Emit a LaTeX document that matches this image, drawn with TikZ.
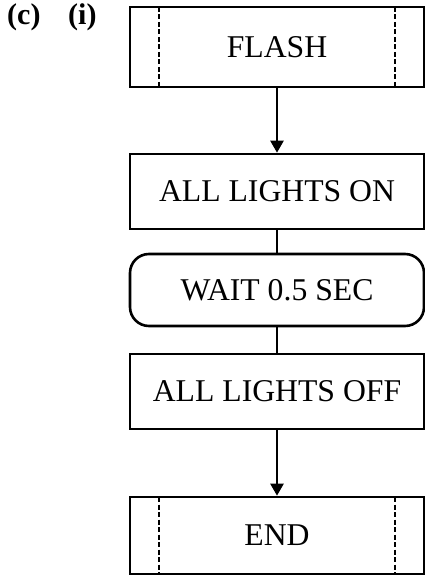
\documentclass[tikz,border=0pt]{standalone}
\usepackage{fontspec}
\setmainfont{Liberation Serif}
\usetikzlibrary{arrows.meta}

\begin{document}
\begin{tikzpicture}[x=1pt, y=-1pt, every node/.style={align=center,inner sep=0pt,font=\fontsize{31.7}{36}\selectfont}, box/.style={rectangle,draw,line width=2.6pt,minimum width=294pt,minimum height=75pt}, waitbox/.style={box,rounded corners=19pt,minimum height=72pt}, termbox/.style={box,path picture={\draw[line width=1.6pt,dash pattern=on 5pt off 2.5pt] ([xshift=29pt]path picture bounding box.north west) -- ([xshift=29pt]path picture bounding box.south west); \draw[line width=1.6pt,dash pattern=on 5pt off 2.5pt] ([xshift=-29pt]path picture bounding box.north east) -- ([xshift=-29pt]path picture bounding box.south east);}}, tag/.style={anchor=base west,font=\fontsize{30}{34}\selectfont\bfseries}, flow/.style={-{Triangle[length=12pt,width=13pt]},line width=2.4pt}, link/.style={line width=2.4pt}]
  \useasboundingbox (0,0) rectangle (425,575);
  \node[tag] (partc) at (7,25) {(c)};
  \node[tag] (parti) at (68,25) {(i)};
  \node[termbox,minimum height=80pt] (flash) at (277,47) {FLASH};
  \node[box] (allon) at (277,191.5) {ALL LIGHTS ON};
  \node[waitbox] (wait) at (277,290) {WAIT 0.5 SEC};
  \node[box] (alloff) at (277,391.5) {ALL LIGHTS OFF};
  \node[termbox,minimum height=77pt] (stop) at (277,535.5) {END};
  \draw[flow] (flash) -- (allon);
  \draw[link] (allon) -- (wait);
  \draw[link] (wait) -- (alloff);
  \draw[flow] (alloff) -- (stop);
\end{tikzpicture}
\end{document}
